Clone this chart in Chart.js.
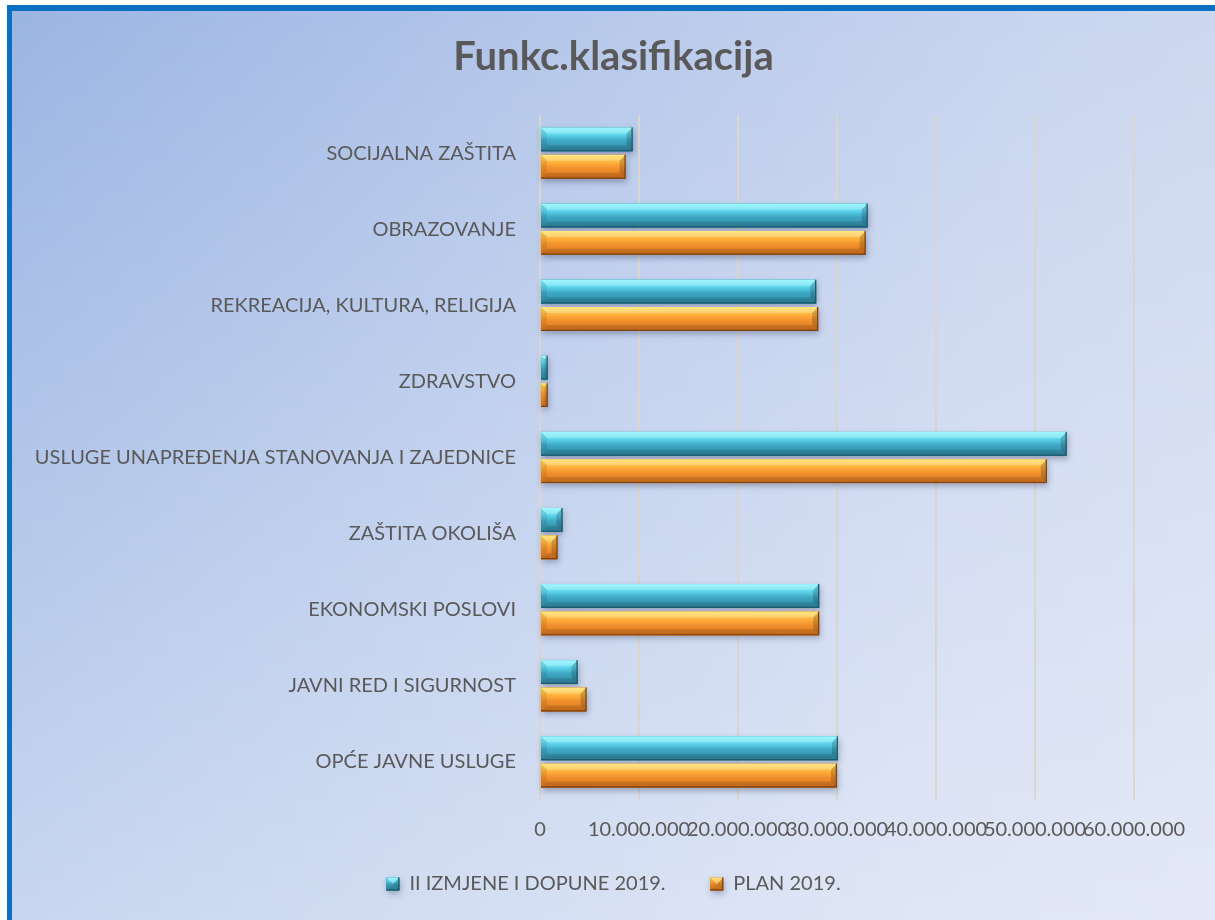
<!DOCTYPE html>
<html lang="hr">
<head>
<meta charset="utf-8">
<title>Funkc.klasifikacija</title>
<script src="https://cdn.jsdelivr.net/npm/chart.js@4/dist/chart.umd.min.js"></script>
<style>
    html, body { margin: 0; padding: 0; background: #ffffff; overflow: hidden; }
    #okvir {
        position: absolute;
        left: 7px;
        top: 5px;
        width: 1203px;
        height: 909px;
        border-left: 5px solid #0b70c1;
        border-top: 6px solid #0b70c1;
        background:
            linear-gradient(to bottom, rgba(255,255,255,0) 0%, rgba(255,255,255,0.4) 100%),
            linear-gradient(100deg, #9bb5e3 0%, #b5c7ea 40%, #c9d5ef 75%, #d0daf0 100%);
    }
    #grafikon { display: block; }
</style>
</head>
<body>
<div id="okvir"><canvas id="grafikon" width="1203" height="909"></canvas></div>
<script>
// Podaci (procijenjeni s grafikona)
const kategorije = [
    'SOCIJALNA ZAŠTITA',
    'OBRAZOVANJE',
    'REKREACIJA, KULTURA, RELIGIJA',
    'ZDRAVSTVO',
    'USLUGE UNAPREĐENJA STANOVANJA I ZAJEDNICE',
    'ZAŠTITA OKOLIŠA',
    'EKONOMSKI POSLOVI',
    'JAVNI RED I SIGURNOST',
    'OPĆE JAVNE USLUGE'
];
const izmjene2019 = [9360000, 33100000, 27900000, 780000, 53200000, 2270000, 28200000, 3800000, 30100000];
const plan2019 = [8650000, 32900000, 28100000, 780000, 51200000, 1770000, 28200000, 4700000, 30000000];
const xTicks = [0, 10000000, 20000000, 30000000, 40000000, 50000000, 60000000];

const nazivi = ['II IZMJENE I DOPUNE 2019.', 'PLAN 2019.'];

// boje za "bevel" efekt
const boje = [
    { svijetla: '#7ef6ff', gore: '#5fd6ec', sredina: '#3fa9c4', dolje: '#2f87a3', rub: '#1d5a6d', osnovna: '#3aa4c0' },
    { svijetla: '#ffe055', gore: '#ffb43e', sredina: '#f3922d', dolje: '#d6731f', rub: '#7d4313', osnovna: '#f0902c' }
];

function formatBroj(v) {
    return String(v).replace(/\B(?=(\d{3})+(?!\d))/g, '.');
}

// crta jedan stupac s kosim rubovima
function nacrtajBevel(ctx, x0, x1, yt, h, b) {
    const yb = yt + h;
    const w = x1 - x0;
    if (w <= 0) return;
    const d = Math.min(6, w / 2, h / 2);

    ctx.save();
    // sjena
    ctx.shadowColor = 'rgba(40, 50, 80, 0.35)';
    ctx.shadowBlur = 6;
    ctx.shadowOffsetY = 3;
    ctx.shadowOffsetX = 1;
    ctx.fillStyle = b.dolje;
    ctx.fillRect(x0, yt, w, h);
    ctx.restore();

    ctx.save();
    const g = ctx.createLinearGradient(0, yt, 0, yb);
    g.addColorStop(0, b.svijetla);
    g.addColorStop(0.3, b.gore);
    g.addColorStop(0.55, b.sredina);
    g.addColorStop(1, b.dolje);
    ctx.fillStyle = g;
    ctx.fillRect(x0, yt, w, h);

    // gornji kosi rub
    ctx.fillStyle = 'rgba(255,255,255,0.25)';
    ctx.beginPath();
    ctx.moveTo(x0, yt); ctx.lineTo(x1, yt); ctx.lineTo(x1 - d, yt + d); ctx.lineTo(x0 + d, yt + d);
    ctx.closePath(); ctx.fill();

    // donji kosi rub
    ctx.fillStyle = 'rgba(0,0,0,0.12)';
    ctx.beginPath();
    ctx.moveTo(x0, yb); ctx.lineTo(x1, yb); ctx.lineTo(x1 - d, yb - d); ctx.lineTo(x0 + d, yb - d);
    ctx.closePath(); ctx.fill();

    // desni kraj
    ctx.fillStyle = 'rgba(0,0,0,0.18)';
    ctx.beginPath();
    ctx.moveTo(x1, yt); ctx.lineTo(x1, yb); ctx.lineTo(x1 - d, yb - d); ctx.lineTo(x1 - d, yt + d);
    ctx.closePath(); ctx.fill();

    // lijevi kraj
    ctx.fillStyle = 'rgba(0,0,0,0.08)';
    ctx.beginPath();
    ctx.moveTo(x0, yt); ctx.lineTo(x0, yb); ctx.lineTo(x0 + d, yb - d); ctx.lineTo(x0 + d, yt + d);
    ctx.closePath(); ctx.fill();

    // tamni rub dolje i desno
    ctx.strokeStyle = b.rub;
    ctx.lineWidth = 1.2;
    ctx.beginPath();
    ctx.moveTo(x0, yb - 0.6); ctx.lineTo(x1 - 0.6, yb - 0.6); ctx.lineTo(x1 - 0.6, yt);
    ctx.stroke();
    ctx.restore();
}

const bevelPlugin = {
    id: 'bevel',
    afterDatasetsDraw(chart) {
        const ctx = chart.ctx;
        chart.data.datasets.forEach(function(ds, i) {
            const meta = chart.getDatasetMeta(i);
            if (meta.hidden) return;
            meta.data.forEach(function(bar) {
                const p = bar.getProps(['x', 'y', 'base', 'height'], true);
                nacrtajBevel(ctx, Math.min(p.base, p.x), Math.max(p.base, p.x), p.y - p.height / 2, p.height, boje[i]);
            });
        });
    },
    afterDraw(chart) {
        // kvadratići legende s istim efektom
        const legend = chart.legend;
        if (!legend || !legend.legendHitBoxes) return;
        legend.legendHitBoxes.forEach(function(hb, i) {
            const s = 13;
            const y = hb.top + (hb.height - s) / 2;
            nacrtajBevel(chart.ctx, hb.left, hb.left + s, y, s, boje[i]);
        });
    }
};

const ctx = document.getElementById('grafikon').getContext('2d');
const funkcChart = new Chart(ctx, {
    type: 'bar',
    data: {
        labels: kategorije,
        datasets: [{
            // razmak iza prvog naziva u legendi
            label: nazivi[0] + '      ',
            data: izmjene2019,
            backgroundColor: boje[0].osnovna,
            barPercentage: 0.87,
            categoryPercentage: 0.72
        }, {
            label: nazivi[1],
            data: plan2019,
            backgroundColor: boje[1].osnovna,
            barPercentage: 0.87,
            categoryPercentage: 0.72
        }]
    },
    options: {
        indexAxis: 'y',
        responsive: false,
        animation: false,
        layout: {
            padding: { left: 0, right: 0, top: 0, bottom: 16 }
        },
        plugins: {
            title: {
                display: true,
                text: 'Funkc.klasifikacija',
                color: '#595959',
                font: { family: 'Lato', size: 40, weight: 'bold' },
                padding: { top: 22, bottom: 34 }
            },
            legend: {
                position: 'bottom',
                labels: {
                    color: '#595959',
                    font: { family: 'Lato', size: 20 },
                    boxWidth: 13,
                    boxHeight: 13,
                    padding: 14
                }
            },
            tooltip: { enabled: false }
        },
        scales: {
            x: {
                min: 0,
                max: 60000000,
                afterBuildTicks: function(scale) {
                    scale.ticks = xTicks.map(function(v) { return { value: v }; });
                },
                afterFit: function(scale) {
                    scale.paddingRight = 81;
                },
                ticks: {
                    color: '#595959',
                    font: { family: 'Lato', size: 20 },
                    autoSkip: false,
                    maxRotation: 0,
                    padding: 18,
                    callback: function(v) { return formatBroj(v); }
                },
                grid: {
                    color: '#d9d5cf',
                    lineWidth: 2,
                    drawTicks: false
                },
                border: { display: false }
            },
            y: {
                ticks: {
                    color: '#595959',
                    font: { family: 'Lato', size: 20 },
                    padding: 24,
                    autoSkip: false
                },
                grid: { display: false, drawTicks: false },
                border: { display: false },
                afterFit: function(scale) {
                    scale.width = 528;
                }
            }
        }
    },
    plugins: [bevelPlugin]
});
</script>
</body>
</html>
